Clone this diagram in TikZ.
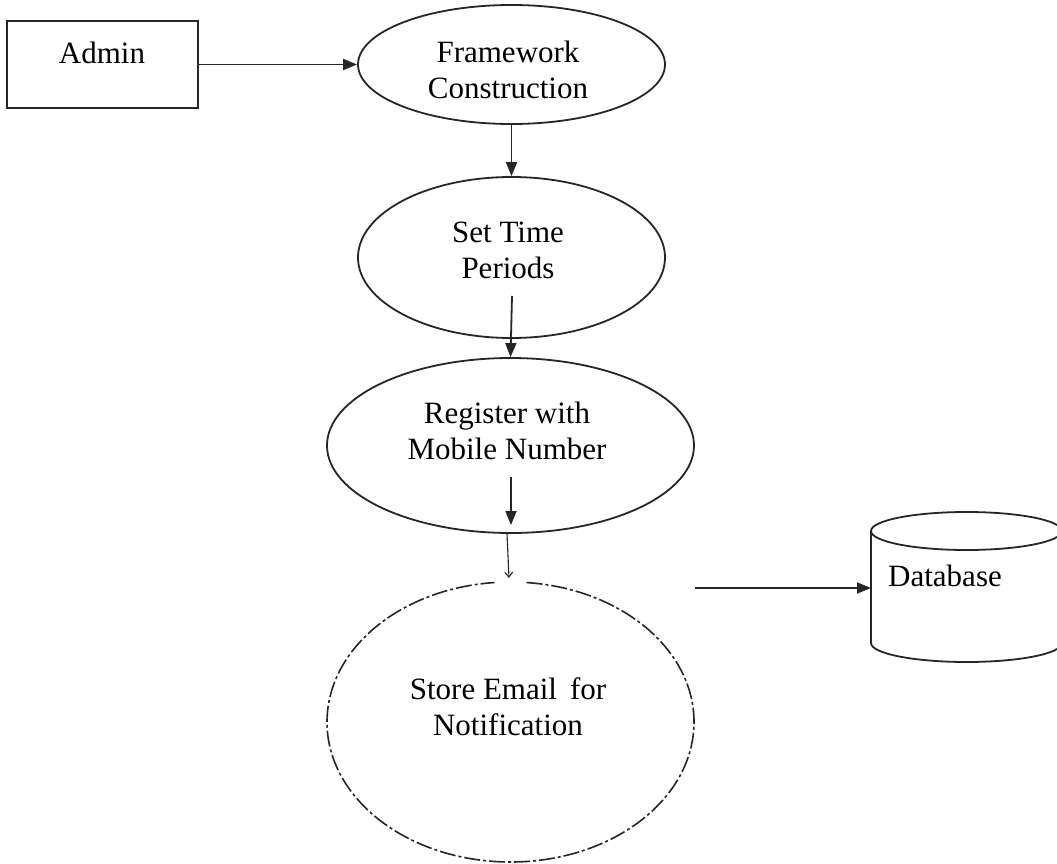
\documentclass[tikz,border=0pt]{standalone}
\usepackage{fontspec}
\setmainfont{Liberation Serif}
\usetikzlibrary{shapes.geometric,arrows.meta}
\begin{document}
\begin{tikzpicture}[x=1pt,y=-1pt,
  line/.style={draw=black!85,line width=1.8pt},
  arr/.style={line,-{Triangle[length=14pt,width=11pt]}},
  thinarr/.style={draw=black!85,line width=1.1pt,-{Straight Barb[length=5pt,width=8pt]}},
  oval/.style={ellipse,line,inner sep=0pt},
  lbl/.style={font=\fontsize{31}{36}\selectfont,align=center,inner sep=0pt},
  dashdotline/.style={draw=black!85,line width=1.6pt,dash pattern=on 16pt off 3pt on 3pt off 3pt}
]
\useasboundingbox (0,0) rectangle (1057,864);
\fill[white] (0,0) rectangle (1057,864);

% Admin box
\node[line,minimum width=191pt,minimum height=87pt,inner sep=0pt] (admin) at (102.5,64.5) {};
\node[lbl] (admint) at (102,53) {Admin};

% Framework Construction
\node[oval,minimum width=307pt,minimum height=119pt] (fw) at (511.5,64.5) {};
\node[lbl] (fwt) at (508,70) {Framework\\Construction};

% Set Time Periods
\node[oval,minimum width=307pt,minimum height=161pt] (st) at (511.5,257.5) {};
\node[lbl] (stt) at (508,250) {Set Time\\Periods};

% Register with Mobile Number
\node[oval,minimum width=367pt,minimum height=175pt] (reg) at (510.5,445.5) {};
\node[lbl] (regt) at (507,431) {Register with\\Mobile Number};

% Store Email for Notification (dash-dot outline with gap at top)
\node[ellipse,minimum width=367pt,minimum height=280pt,inner sep=0pt] (se) at (510.5,722) {};
\draw[dashdotline] (se.center) ++(275:183.5 and 140)
  arc[start angle=275,end angle=625,x radius=183.5,y radius=140];
\node[lbl] (set) at (508,707) {Store Email\, for\\Notification};

% Database cylinder
\coordinate (dbc) at (966.5,531);
\draw[line,fill=white] (871,531) -- (871,643)
  arc[start angle=180,end angle=0,x radius=95.5,y radius=19] -- (1062,531);
\draw[line] (dbc) ellipse[x radius=95.5,y radius=19];
\coordinate (dbw) at (871,588);
\node[lbl,anchor=west] (dbt) at (888,576) {Database};

% Connectors
\coordinate (stout) at (512,296);
\coordinate (regin1) at (511,477);
\coordinate (regin2) at (511,525);
\coordinate (seTop) at (509,578);
\coordinate (seout) at (695,588);

\draw[arr] (admin.east) -- (fw.west);
\draw[arr] (fw.south) -- (st.north);
\draw[arr] (stout) -- (reg.north);
\draw[arr] (regin1) -- (regin2);
\draw[thinarr] ([xshift=-3.5pt]reg.south) -- (seTop);
\draw[arr] (seout) -- (dbw);
\end{tikzpicture}
\end{document}
